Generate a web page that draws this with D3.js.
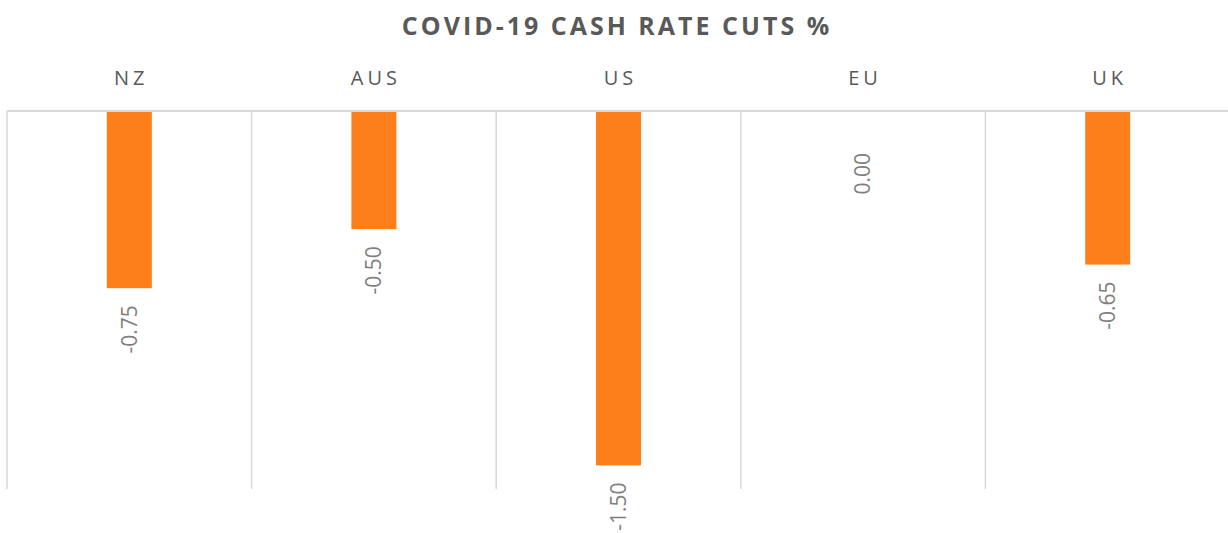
<!DOCTYPE html>
<html>
<head>
<meta charset="utf-8">
<script src="https://cdn.jsdelivr.net/npm/d3@7"></script>
<style>
  body { margin: 0; background: #fff; }
  svg { display: block; }
</style>
</head>
<body>
<svg id="chart"></svg>
<script>
// chart data
const countries = ['NZ', 'AUS', 'US', 'EU', 'UK']
const rateCuts = [-0.75, -0.50, -1.50, 0.00, -0.65]
const title = 'COVID-19 CASH RATE CUTS %'

const w = 1228
const h = 533
const margin = { top: 111, right: -2, bottom: 44, left: 7 }

const svg = d3.select('#chart')
  .attr('width', w)
  .attr('height', h)

const xScale = d3.scaleBand()
  .domain(countries)
  .range([margin.left, w - margin.right])
  .padding(0)

const yScale = d3.scaleLinear()
  .domain([0, -1.6])
  .range([margin.top, h - margin.bottom])

const barW = xScale.bandwidth() * 0.184
const grid = '#d9d9d9'

// vertical gridlines (category borders)
const edges = countries.map(c => xScale(c)).concat([xScale(countries[countries.length - 1]) + xScale.bandwidth()])
svg.append('g')
  .selectAll('line')
  .data(edges)
  .join('line')
    .attr('x1', d => d)
    .attr('x2', d => d)
    .attr('y1', yScale(0))
    .attr('y2', yScale(-1.6))
    .attr('stroke', grid)
    .attr('stroke-width', 1.5)

// bars
svg.append('g')
  .selectAll('rect')
  .data(countries)
  .join('rect')
    .attr('x', (d, i) => xScale(d) + xScale.bandwidth() / 2 - barW / 2)
    .attr('y', yScale(0))
    .attr('width', barW)
    .attr('height', (d, i) => yScale(rateCuts[i]) - yScale(0))
    .attr('fill', '#fc7f1c')

// category axis along the top (zero line)
svg.append('line')
  .attr('x1', margin.left)
  .attr('x2', w)
  .attr('y1', yScale(0))
  .attr('y2', yScale(0))
  .attr('stroke', grid)
  .attr('stroke-width', 2)

svg.append('g')
  .selectAll('text')
  .data(countries)
  .join('text')
    .attr('x', d => xScale(d) + xScale.bandwidth() / 2 + 2)
    .attr('y', 85)
    .attr('text-anchor', 'middle')
    .style('font-family', '"Open Sans", sans-serif')
    .style('font-size', '20px')
    .style('letter-spacing', '4px')
    .style('fill', '#595959')
    .text(d => d)

// data labels, rotated (plain hyphen for the minus sign, like the original)
svg.append('g')
  .selectAll('text')
  .data(countries)
  .join('text')
    .attr('transform', (d, i) => {
      const cx = xScale(d) + xScale.bandwidth() / 2
      const top = rateCuts[i] === 0 ? yScale(0) + 42 : yScale(rateCuts[i]) + 17
      return `translate(${cx},${top}) rotate(-90)`
    })
    .attr('dy', '0.35em')
    .attr('text-anchor', 'end')
    .style('font-family', '"Open Sans", sans-serif')
    .style('font-size', '21px')
    .style('fill', '#7f7f7f')
    .text((d, i) => rateCuts[i].toFixed(2))

// title
svg.append('text')
  .attr('x', 617)
  .attr('y', 35)
  .attr('text-anchor', 'middle')
  .style('font-family', '"Open Sans", sans-serif')
  .style('font-weight', 700)
  .style('font-size', '25px')
  .style('letter-spacing', '3px')
  .style('fill', '#595959')
  .text(title)
</script>
</body>
</html>
